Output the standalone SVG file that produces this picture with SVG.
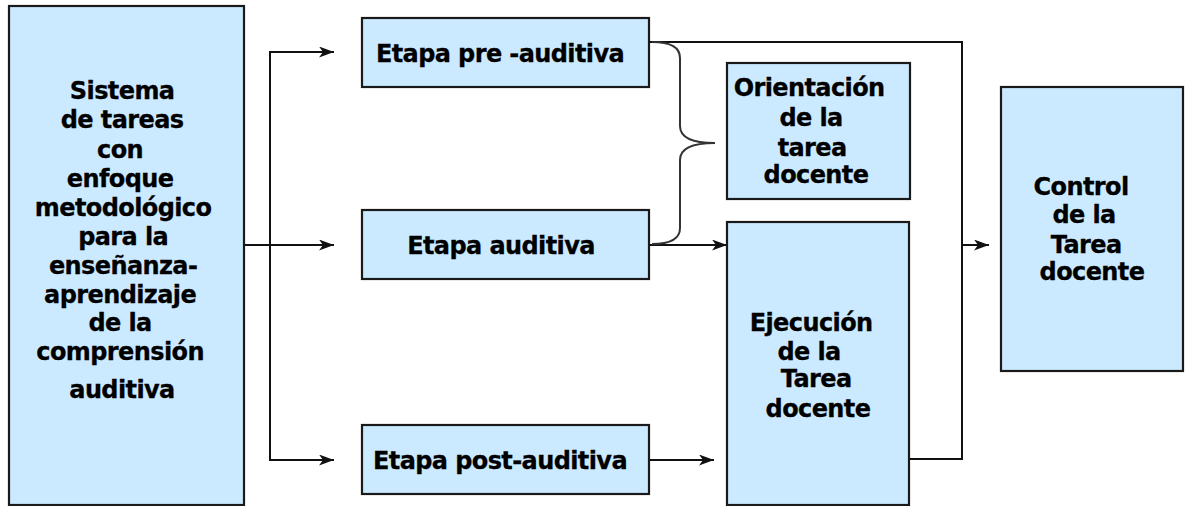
<svg xmlns="http://www.w3.org/2000/svg" width="1185" height="506" viewBox="0 0 1185 506">
<defs>
<style>
.box{fill:#cceaff;stroke:#1a1a1a;stroke-width:2.2}
.t{font-family:"DejaVu Sans","Liberation Sans",sans-serif;font-weight:bold;font-size:24px;letter-spacing:-0.6px;fill:#000;stroke:#000;stroke-width:0.3;text-anchor:middle}
.ln{fill:none;stroke:#111;stroke-width:2}
.br{fill:none;stroke:#333;stroke-width:2}
</style>
<marker id="ah" viewBox="0 0 15 11" refX="15" refY="5.5" markerWidth="15" markerHeight="11" markerUnits="userSpaceOnUse" orient="auto">
<path d="M0,0 L15,5.5 L0,11 L4,5.5 Z" fill="#111"/>
</marker>
</defs>
<rect width="1185" height="506" fill="#fff"/>
<g id="connectors">
<path class="ln" d="M244,245 L334,245" marker-end="url(#ah)"/>
<path class="ln" d="M270,245 L270,52 L334,52" marker-end="url(#ah)"/>
<path class="ln" d="M270,245 L270,460 L334,460" marker-end="url(#ah)"/>
<path class="ln" d="M649,245 L727,245" marker-end="url(#ah)"/>
<path class="ln" d="M649,460 L714,460" marker-end="url(#ah)"/>
<path class="ln" d="M649,42 L962,42 L962,459 L909,459"/>
<path class="ln" d="M962,245 L989,245" marker-end="url(#ah)"/>
<path class="br" d="M652,42 Q680,42 680,58 L680,126 Q680,143 715,143 Q680,143 680,160 L680,228 Q680,244 652,244"/>
</g>
<g id="n-sistema">
<rect class="box" x="9" y="6" width="235" height="499"/>
<text class="t">
<tspan x="126" y="99">Sistema</tspan>
<tspan x="126" y="128">de tareas</tspan>
<tspan x="124" y="158">con</tspan>
<tspan x="124" y="187">enfoque</tspan>
<tspan x="127" y="216">metodológico</tspan>
<tspan x="127" y="245">para la</tspan>
<tspan x="127" y="274">enseñanza-</tspan>
<tspan x="124" y="303">aprendizaje</tspan>
<tspan x="124" y="331">de la</tspan>
<tspan x="124" y="360">comprensión</tspan>
<tspan x="122" y="398">auditiva</tspan>
</text>
</g>
<g id="n-pre">
<rect class="box" x="362" y="18" width="287" height="69"/>
<text class="t" x="500" y="62">Etapa pre -auditiva</text>
</g>
<g id="n-auditiva">
<rect class="box" x="362" y="210" width="287" height="69"/>
<text class="t" x="501" y="254">Etapa auditiva</text>
</g>
<g id="n-post">
<rect class="box" x="362" y="425" width="287" height="69"/>
<text class="t" x="500" y="469">Etapa post-auditiva</text>
</g>
<g id="n-orientacion">
<rect class="box" x="727" y="63" width="183" height="136"/>
<text class="t">
<tspan x="813" y="96">Orientación</tspan>
<tspan x="815" y="126">de la</tspan>
<tspan x="816" y="156">tarea</tspan>
<tspan x="816" y="183">docente</tspan>
</text>
</g>
<g id="n-ejecucion">
<rect class="box" x="727" y="222" width="182" height="283"/>
<text class="t">
<tspan x="815" y="331">Ejecución</tspan>
<tspan x="813" y="360">de la</tspan>
<tspan x="820" y="387">Tarea</tspan>
<tspan x="818" y="417">docente</tspan>
</text>
</g>
<g id="n-control">
<rect class="box" x="1001" y="87" width="182" height="284"/>
<text class="t">
<tspan x="1085" y="195">Control</tspan>
<tspan x="1088" y="223">de la</tspan>
<tspan x="1090" y="253">Tarea</tspan>
<tspan x="1092" y="280">docente</tspan>
</text>
</g>
</svg>
